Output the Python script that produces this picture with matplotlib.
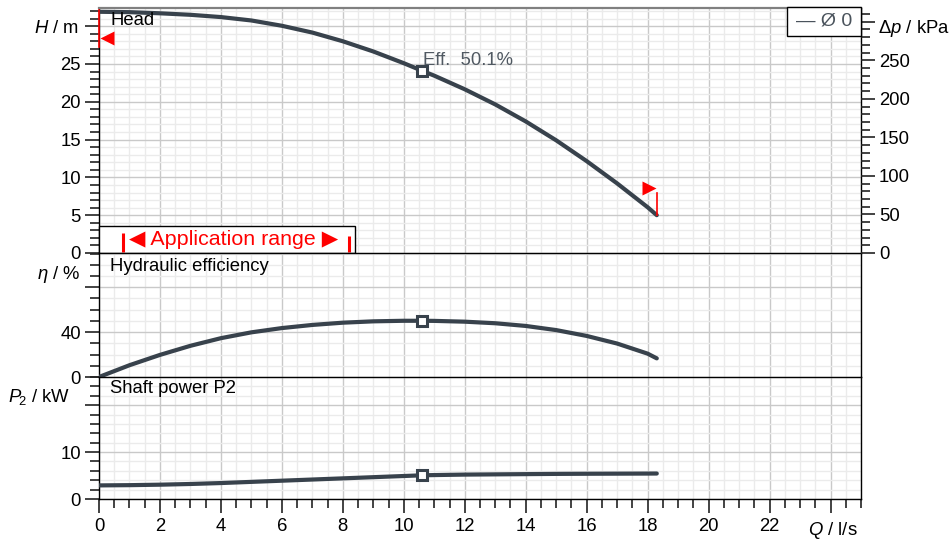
import matplotlib
matplotlib.use("Agg")
import matplotlib.pyplot as plt
from matplotlib.patches import Rectangle
from matplotlib.ticker import MultipleLocator, FixedLocator

plt.rcParams['font.family'] = ['Liberation Sans', 'DejaVu Sans']
plt.rcParams['mathtext.fontset'] = 'custom'
plt.rcParams['mathtext.rm'] = 'Liberation Sans'
plt.rcParams['mathtext.it'] = 'Liberation Sans:italic'

# ---------------- data ----------------
flow = [0, 1, 2, 3, 4, 5, 6, 7, 8, 9, 10, 10.6, 11, 12, 13, 14, 15, 16, 17, 18, 18.3]
head = [31.9, 31.85, 31.7, 31.5, 31.2, 30.75, 30.05, 29.15, 28.0, 26.65, 25.1, 24.1,
        23.45, 21.65, 19.65, 17.4, 14.9, 12.15, 9.2, 6.05, 5.0]
eff = [0.0, 10.5, 19.7, 27.8, 34.6, 39.8, 43.6, 46.4, 48.4, 49.6, 50.1, 50.1,
       50.0, 49.3, 47.9, 45.5, 41.8, 36.6, 29.8, 20.8, 16.6]
power = [2.9, 2.95, 3.05, 3.2, 3.4, 3.65, 3.9, 4.15, 4.4, 4.65, 4.9, 5.05,
         5.1, 5.2, 5.25, 5.3, 5.35, 5.38, 5.4, 5.42, 5.43]
bep_flow = 10.6
bep_eff_text = "Eff.  50.1%"
app_range = [0.8, 8.2]
limit_flow = [0.0, 18.3]
limit_head = [28.4, 8.6]
x_ticks = [0, 2, 4, 6, 8, 10, 12, 14, 16, 18, 20, 22, 24]
x_ticklabels = ['0', '2', '4', '6', '8', '10', '12', '14', '16', '18', '20', '22', '']
h_ticks = [0, 5, 10, 15, 20, 25, 30]
h_ticklabels = ['0', '5', '10', '15', '20', '25', '']
dp_ticks = [0, 50, 100, 150, 200, 250, 300]
dp_ticklabels = ['0', '50', '100', '150', '200', '250', '']
eta_ticks = [0, 40, 80]
eta_ticklabels = ['0', '40', '']
p_ticks = [0, 10, 20]
p_ticklabels = ['0', '10', '']
kpa_per_m = 9.81

# ---------------- layout ----------------
W, H = 951, 541
fig = plt.figure(figsize=(W / 100, H / 100), dpi=100)

def fx(x):
    return x / W

def fy(y):
    return 1 - y / H

x0, x1 = 99, 861
ytop, ymid, ybot, yend = 8, 253, 377, 499
ax_h = fig.add_axes([fx(x0), fy(ymid), fx(x1) - fx(x0), fy(ytop) - fy(ymid)])
ax_e = fig.add_axes([fx(x0), fy(ybot), fx(x1) - fx(x0), fy(ymid) - fy(ybot)])
ax_p = fig.add_axes([fx(x0), fy(yend), fx(x1) - fx(x0), fy(ybot) - fy(yend)])

curve_col = '#38424c'
major_grid = '#c9c9c9'
minor_grid = '#ebebeb'
tick_col = '#222222'
FS = 13.3

for ax in (ax_h, ax_e, ax_p):
    ax.set_xlim(0, 25)
    ax.xaxis.set_major_locator(FixedLocator(x_ticks))
    ax.xaxis.set_minor_locator(MultipleLocator(0.5))
    ax.grid(which='major', color=major_grid, lw=1.0, zorder=0)
    ax.grid(which='minor', color=minor_grid, lw=1.0, zorder=0)
    ax.set_axisbelow(True)
    for s in ax.spines.values():
        s.set_color('black')
        s.set_linewidth(1.0)
    ax.tick_params(which='major', direction='out', length=10, width=1.2, color=tick_col,
                   labelsize=FS, pad=3)
    ax.tick_params(which='minor', direction='out', length=6.5, width=1.2, color=tick_col)
    ax.tick_params(axis='x', which='both', length=0, labelbottom=False)

ax_h.spines['top'].set_color('#808080')
ax_h.spines['top'].set_linewidth(1.6)
ax_h.spines['bottom'].set_visible(False)
ax_e.spines['bottom'].set_visible(False)

# bottom x axis
ax_p.set_xticklabels(x_ticklabels)
ax_p.tick_params(axis='x', which='major', length=10, width=1.2, labelbottom=True, pad=4,
                 labelsize=FS)
ax_p.tick_params(axis='x', which='minor', length=6.5, width=1.2)

# head panel
ax_h.set_ylim(0, 32.4)
ax_h.yaxis.set_major_locator(FixedLocator(h_ticks))
ax_h.set_yticklabels(h_ticklabels)
ax_h.yaxis.set_minor_locator(MultipleLocator(1))
ax_h.plot(flow, head, color=curve_col, lw=3, solid_capstyle='round',
          solid_joinstyle='round', zorder=4)
bi = flow.index(bep_flow)
ax_h.plot([bep_flow], [head[bi]], marker='s', ms=6.5, mfc='white', mec=curve_col,
          mew=2.2, zorder=5)

# right kPa axis
ax_r = ax_h.twinx()
ax_r.set_ylim(0, 32.4 * kpa_per_m)
ax_r.yaxis.set_major_locator(FixedLocator(dp_ticks))
ax_r.set_yticklabels(dp_ticklabels)
ax_r.yaxis.set_minor_locator(MultipleLocator(10))
ax_r.tick_params(which='major', direction='out', length=10, width=1.2, color=tick_col,
                 labelsize=FS, pad=3)
ax_r.tick_params(which='minor', direction='out', length=6.5, width=1.2, color=tick_col)
for s in ax_r.spines.values():
    s.set_visible(False)

# limit markers (red)
ax_h.plot([limit_flow[0], limit_flow[0]], [32.2, 27.3], color='red', lw=1.2, clip_on=False, zorder=6)
ax_h.plot([0.26], [limit_head[0]], marker='<', ms=10, color='red', mec='none', clip_on=False, zorder=6)
ax_h.plot([limit_flow[1], limit_flow[1]], [head[-1], 7.9], color='red', lw=1.2, zorder=6)
ax_h.plot([limit_flow[1] - 0.25], [limit_head[1]], marker='>', ms=10, color='red', mec='none', zorder=6)

# application range box
ax_h.add_patch(Rectangle((0, 0), 8.4, 3.6, fc='white', ec='black', lw=1.0, zorder=7,
                         clip_on=False))
ax_h.plot([app_range[0]] * 2, [0.1, 2.7], color='red', lw=2.2, zorder=8, solid_capstyle='butt')
ax_h.plot([app_range[1]] * 2, [0.1, 2.2], color='red', lw=2.2, zorder=8, solid_capstyle='butt')
fig.text(fx(233.5), fy(245), "◀ Application range ▶", color='red', fontsize=15.4,
         ha='center', va='baseline', zorder=9)

# efficiency text
fig.text(fx(423), fy(65), bep_eff_text, color='#505962', fontsize=FS, ha='left', va='baseline')

# legend box
fig.patches.append(Rectangle((fx(787), fy(36)), fx(861) - fx(787), fy(7) - fy(36),
                             transform=fig.transFigure, fc='white', ec='black', lw=1.0,
                             zorder=10))
fig.text(fx(824), fy(26), "— Ø 0", color='#4a535c', fontsize=14, ha='center', va='baseline',
         zorder=11)

# efficiency panel
ax_e.set_ylim(0, 110.5)
ax_e.yaxis.set_major_locator(FixedLocator(eta_ticks))
ax_e.set_yticklabels(eta_ticklabels)
ax_e.yaxis.set_minor_locator(MultipleLocator(10))
ax_e.plot(flow, eff, color=curve_col, lw=3, solid_capstyle='round',
          solid_joinstyle='round', zorder=4)
ax_e.plot([bep_flow], [eff[bi]], marker='s', ms=6.5, mfc='white', mec=curve_col,
          mew=2.2, zorder=5)

# power panel
ax_p.set_ylim(0, 26)
ax_p.yaxis.set_major_locator(FixedLocator(p_ticks))
ax_p.set_yticklabels(p_ticklabels)
ax_p.yaxis.set_minor_locator(MultipleLocator(2))
ax_p.plot(flow, power, color=curve_col, lw=3, solid_capstyle='round',
          solid_joinstyle='round', zorder=4)
ax_p.plot([bep_flow], [power[bi]], marker='s', ms=6.5, mfc='white', mec=curve_col,
          mew=2.2, zorder=5)

# panel titles
fig.text(fx(110), fy(25), "Head", fontsize=FS, ha='left', va='baseline')
fig.text(fx(110), fy(270.7), "Hydraulic efficiency", fontsize=FS, ha='left', va='baseline')
fig.text(fx(110), fy(393.3), "Shaft power P2", fontsize=FS, ha='left', va='baseline')

# axis unit labels
fig.text(fx(79), fy(33.3), r"$\mathit{H}$ / m", fontsize=FS, ha='right', va='baseline')
fig.text(fx(80), fy(279.3), r"$\mathit{\eta}$ / %", fontsize=FS, ha='right', va='baseline')
fig.text(fx(70), fy(401.7), r"$\mathit{P}_{\!2}$ / kW", fontsize=FS, ha='right', va='baseline')
fig.text(fx(858), fy(535), r"$\mathit{Q}$ / l/s", fontsize=FS, ha='right', va='baseline')
fig.text(fx(878), fy(33.3), r"Δ$\mathit{p}$ / kPa", fontsize=FS, ha='left', va='baseline')

fig.savefig("out.png", dpi=100)
